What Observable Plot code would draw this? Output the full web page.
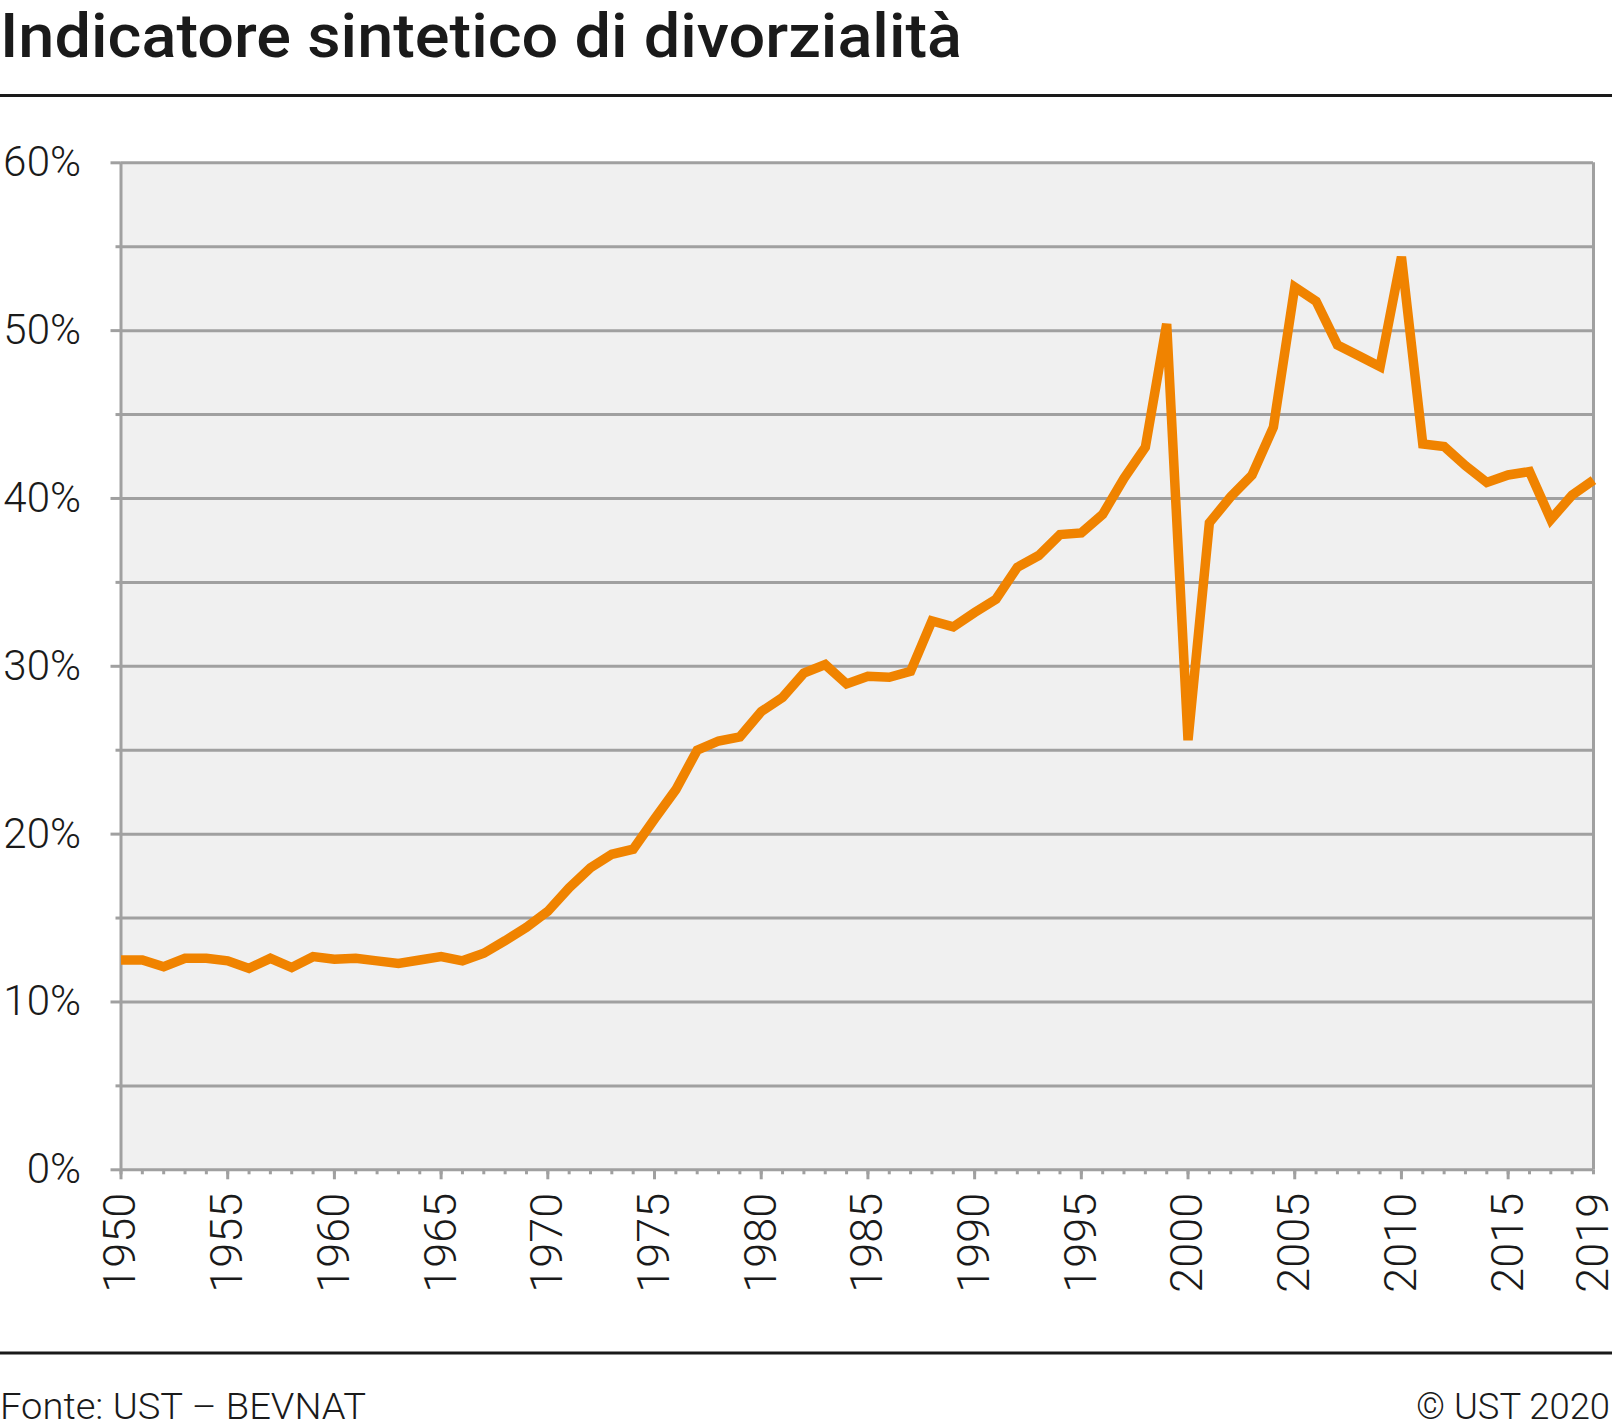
<!DOCTYPE html>
<html>
<head>
<meta charset="utf-8">
<script src="https://cdn.jsdelivr.net/npm/d3@7"></script>
<script src="https://cdn.jsdelivr.net/npm/@observablehq/plot@0.6"></script>
<style>
  html, body { margin: 0; padding: 0; background: #fff; }
  #page { width: 1612px; height: 1428px; position: relative; overflow: hidden; font-family: Roboto, sans-serif; color: #1a1a1a; }
  #page svg { display: block; }
</style>
</head>
<body>
<div id="page"></div>
<script>
// ---- data ----
const years = [
  1950, 1951, 1952, 1953, 1954, 1955, 1956, 1957, 1958, 1959,
  1960, 1961, 1962, 1963, 1964, 1965, 1966, 1967, 1968, 1969,
  1970, 1971, 1972, 1973, 1974, 1975, 1976, 1977, 1978, 1979,
  1980, 1981, 1982, 1983, 1984, 1985, 1986, 1987, 1988, 1989,
  1990, 1991, 1992, 1993, 1994, 1995, 1996, 1997, 1998, 1999,
  2000, 2001, 2002, 2003, 2004, 2005, 2006, 2007, 2008, 2009,
  2010, 2011, 2012, 2013, 2014, 2015, 2016, 2017, 2018, 2019
];
const divorceRate = [
  12.5, 12.5, 12.1, 12.6, 12.6, 12.45, 12.0, 12.6, 12.05, 12.7,
  12.55, 12.6, 12.45, 12.3, 12.5, 12.7, 12.45, 12.9, 13.65, 14.45,
  15.4, 16.8, 18.0, 18.8, 19.1, 20.9, 22.65, 25.0, 25.55, 25.8,
  27.3, 28.15, 29.6, 30.1, 28.95, 29.4, 29.35, 29.7, 32.7, 32.35,
  33.2, 34.0, 35.9, 36.6, 37.85, 37.95, 39.05, 41.2, 43.05, 50.4,
  25.6, 38.55, 40.1, 41.4, 44.25, 52.6, 51.75, 49.15, 48.5, 47.85,
  54.4, 43.25, 43.1, 41.95, 40.95, 41.4, 41.6, 38.75, 40.2, 41.1
];
const yLabelTicks = [0, 10, 20, 30, 40, 50, 60];
const yMinorTicks = [5, 15, 25, 35, 45, 55];
const yGridTicks = [0, 5, 10, 15, 20, 25, 30, 35, 40, 45, 50, 55, 60];
const xMajorTicks = [1950, 1955, 1960, 1965, 1970, 1975, 1980, 1985, 1990, 1995, 2000, 2005, 2010, 2015];
const xLabelTicks = [1950, 1955, 1960, 1965, 1970, 1975, 1980, 1985, 1990, 1995, 2000, 2005, 2010, 2015, 2019];
const titleText = "Indicatore sintetico di divorzialità";
const sourceText = "Fonte: UST – BEVNAT";
const copyrightText = "© UST 2020";

const data = years.map((year, i) => ({ year, rate: divorceRate[i] }));

const gray = "#a0a0a0";
const ink = "#1a1a1a";
const page = d3.select("#page");

// ---- header ----
const head = page.append("svg").attr("width", 1612).attr("height", 100);
head.append("text")
  .attr("x", 0).attr("y", 57)
  .attr("font-family", "Roboto, sans-serif")
  .attr("font-weight", 500)
  .attr("font-size", 62)
  .attr("fill", ink)
  .attr("textLength", 962)
  .attr("lengthAdjust", "spacingAndGlyphs")
  .text(titleText);
head.append("line")
  .attr("x1", 0).attr("x2", 1612).attr("y1", 95.5).attr("y2", 95.5)
  .attr("stroke", ink).attr("stroke-width", 3);

// ---- chart ----
const chart = Plot.plot({
  width: 1612,
  height: 1230,
  marginLeft: 120.5,
  marginRight: 19,
  marginTop: 62.3,
  marginBottom: 160.7,
  style: { fontFamily: "Roboto, sans-serif", fontSize: "42px", fontWeight: 300, color: ink, background: "transparent", overflow: "visible" },
  x: { domain: [1950, 2019], label: null },
  y: { domain: [0, 60], label: null },
  marks: [
    Plot.frame({ fill: "#f0f0f0", stroke: null }),
    Plot.gridY(yGridTicks, { stroke: gray, strokeOpacity: 1, strokeWidth: 3 }),
    Plot.ruleX([1950, 2019], { stroke: gray, strokeWidth: 3 }),
    Plot.axisY({ ticks: yMinorTicks, tickSize: 5, tickFormat: () => "", stroke: gray, strokeWidth: 3, label: null }),
    Plot.axisY({ ticks: yLabelTicks, tickSize: 10, tickPadding: 30, tickFormat: d => d + "%", stroke: gray, strokeWidth: 3, fill: ink, fontSize: 42, label: null }),
    Plot.axisX({ ticks: years, tickSize: 5, tickFormat: () => "", stroke: gray, strokeWidth: 3, label: null }),
    Plot.axisX({ ticks: xMajorTicks, tickSize: 10, tickFormat: () => "", stroke: gray, strokeWidth: 3, label: null }),
    Plot.axisX({ ticks: xLabelTicks, tickSize: 0, tickPadding: 23, tickRotate: -90, tickFormat: d => String(d), fill: ink, fontSize: 45, label: null }),
    Plot.line(data, { x: "year", y: "rate", stroke: "#f08300", strokeWidth: 9.5, strokeLinejoin: "miter", strokeLinecap: "butt", strokeMiterlimit: 4 })
  ]
});
page.node().append(chart);

// ---- footer ----
const foot = page.append("svg").attr("width", 1612).attr("height", 98);
foot.append("line")
  .attr("x1", 0).attr("x2", 1612).attr("y1", 23).attr("y2", 23)
  .attr("stroke", ink).attr("stroke-width", 3);
foot.append("text")
  .attr("x", 0).attr("y", 88.7)
  .attr("font-family", "Roboto, sans-serif").attr("font-weight", 300).attr("font-size", 36)
  .attr("fill", ink)
  .attr("textLength", 366).attr("lengthAdjust", "spacingAndGlyphs")
  .text(sourceText);
foot.append("text")
  .attr("x", 1610).attr("y", 88.7)
  .attr("text-anchor", "end")
  .attr("font-family", "Roboto, sans-serif").attr("font-weight", 300).attr("font-size", 36)
  .attr("fill", ink)
  .attr("textLength", 194).attr("lengthAdjust", "spacingAndGlyphs")
  .text(copyrightText);
</script>
</body>
</html>
